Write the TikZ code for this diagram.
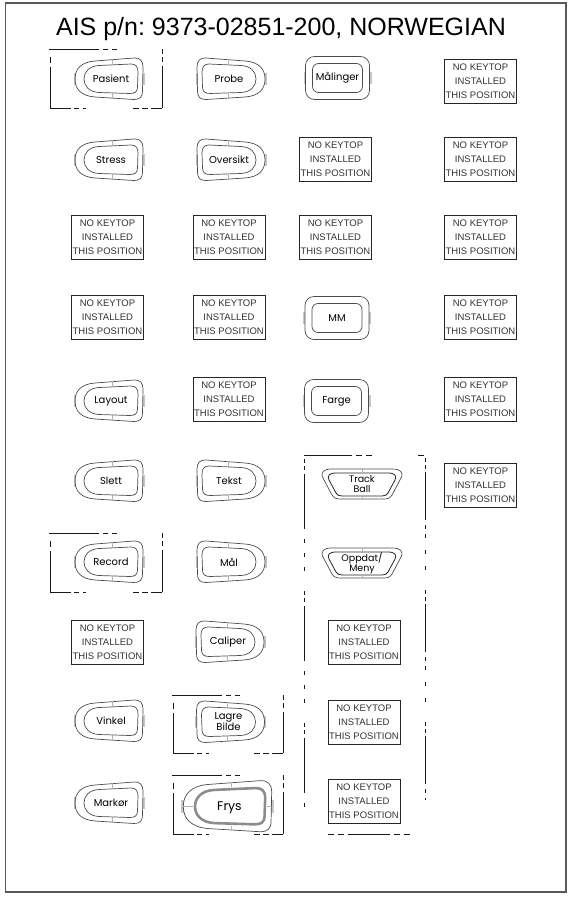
\documentclass[tikz,border=0pt]{standalone}
\usepackage{fontspec}
\setmainfont{Liberation Sans}
\newfontfamily\keyfont{Poppins}
\frenchspacing
\tikzset{
  keyline/.style={line width=0.7pt, black!70},
  tabf/.style={fill=black!22, draw=none},
  splitl/.style={line width=0.4pt, black!30},
  nk/.style={draw=black!85, line width=0.9pt, minimum width=72pt, minimum height=44pt, inner sep=0pt, align=center, font=\fontsize{9.5}{13.8}\selectfont, text=black!80},
  klabel/.style={font=\keyfont\fontsize{10}{11}\selectfont, inner sep=0pt, align=center},
  brk/.style={line width=0.9pt, black!90}
}
% asymmetric keycap: name, x, y, dir, text
\newcommand\keyA[5]{%
\begin{scope}[shift={(#2,#3)}]
 \begin{scope}[xscale=#4]
  \fill[tabf] (-35.5,-6) rectangle (-33.5,6);
  \fill[tabf] (33.5,-6) rectangle (35.5,6);
  \draw[keyline] (-14,-18) -- (25,-21) .. controls (31,-21.5) and (34,-18) .. (34,-12) -- (33.5,12) .. controls (33.5,18) and (31,20.5) .. (25,20.5) -- (-14,18) .. controls (-28,17) and (-34,10) .. (-34,0) .. controls (-34,-10) and (-28,-17) .. (-14,-18) -- cycle;
  \draw[keyline] (-10,-13.5) -- (22,-15) .. controls (27,-15) and (29,-12) .. (29,-7) -- (28.5,8) .. controls (28.5,12.5) and (26,14.5) .. (21,14.5) -- (-10,13.5) .. controls (-20,13) and (-25,7) .. (-25,0) .. controls (-25,-7) and (-20,-13) .. (-10,-13.5) -- cycle;
  \draw[splitl] (3,-20) -- (3,-14.3) (3,14) -- (3,19.5);
 \end{scope}
 \node[klabel] (#1) at ({2*(#4)},0) {#5};
\end{scope}}
% rounded-rectangle key: name, x, y, text
\newcommand\keyB[4]{%
\begin{scope}[shift={(#2,#3)}]
  \fill[tabf] (-34,-6) rectangle (-32,6);
  \fill[tabf] (32,-6) rectangle (34,6);
  \draw[keyline, rounded corners=9pt] (-32,-21.5) rectangle (32,21.5);
  \draw[keyline, rounded corners=6pt] (-25,-14.5) rectangle (25,14.5);
  \node[klabel] (#1) at (0,0) {#4};
\end{scope}}
% trapezoid key: name, x, y, text
\newcommand\keyC[4]{%
\begin{scope}[shift={(#2,#3)}]
  \draw[keyline] (-30,-15) -- (30,-15) .. controls (38,-15) and (42,-12) .. (39,-6) -- (30,11) .. controls (28,14) and (26,15) .. (22,15) -- (-22,15) .. controls (-26,15) and (-28,14) .. (-30,11) -- (-39,-6) .. controls (-42,-12) and (-38,-15) .. (-30,-15) -- cycle;
  \draw[keyline, black!85, line width=0.8pt] (-26,-11) -- (26,-11) .. controls (33,-11) and (35,-8) .. (33,-4) -- (26,9) .. controls (25,11) and (23,12) .. (20,12) -- (-20,12) .. controls (-23,12) and (-25,11) .. (-26,9) -- (-33,-4) .. controls (-35,-8) and (-33,-11) .. (-26,-11) -- cycle;
  \draw[splitl] (0,-15) -- (0,-11) (0,12) -- (0,15);
  \node[klabel, font=\keyfont\fontsize{9.5}{10}\selectfont] (#1) at (0,0.5) {#4};
\end{scope}}
% dashed bracket round a key: x, y, w, h
\newcommand\kbr[4]{%
\begin{scope}[shift={(#1,#2)}]
  \draw[brk, dash pattern=on 50pt off 4pt on 5pt off 4pt on 5pt] (0,0) -- (68,0);
  \draw[brk, dash pattern=on 6pt off 4pt on 100pt] (1,8) -- (1,#4);
  \draw[brk, dash pattern=on 21pt off 3pt on 5pt off 4pt on 4pt] (1,#4) -- (37,#4);
  \draw[brk, dash pattern=on 6pt off 3pt on 6pt off 3pt on 30pt] ({#3-29},#4) -- (#3,#4);
  \draw[brk, dash pattern=on 5pt off 3pt on 5pt off 4pt on 100pt] (#3,0) -- (#3,#4);
\end{scope}}
\begin{document}
\begin{tikzpicture}[x=1pt,y=-1pt]
\useasboundingbox (0,0) rectangle (569,897);
\draw[black!65, line width=1.3pt] (5.5,3) rectangle (566,892);
\node[font=\fontsize{25}{30}\selectfont, anchor=base, inner sep=0pt] (title) at (281,35) {AIS p/n: 9373-02851-200, NORWEGIAN};

% column 1
\keyA{pasient}{109}{79}{1}{Pasient}
\keyA{stress}{109}{160}{1}{Stress}
\node[nk] (nk11) at (107.5,237) {NO KEYTOP\\INSTALLED\\THIS POSITION};
\node[nk] (nk12) at (107.5,317) {NO KEYTOP\\INSTALLED\\THIS POSITION};
\keyA{layout}{109}{401}{1}{Layout}
\keyA{slett}{109}{481}{1}{Slett}
\keyA{record}{109}{562}{1}{Record}
\node[nk] (nk13) at (107.5,642) {NO KEYTOP\\INSTALLED\\THIS POSITION};
\keyA{vinkel}{109}{721}{1}{Vinkel}
\keyA{markor}{109}{803}{1}{Markør}
\kbr{49}{49}{113}{59}
\kbr{49}{533}{113}{59}

% column 2
\keyA{probe}{231}{79}{-1}{Probe}
\keyA{oversikt}{231}{160}{-1}{Oversikt}
\node[nk] (nk21) at (229,237) {NO KEYTOP\\INSTALLED\\THIS POSITION};
\node[nk] (nk22) at (229,317) {NO KEYTOP\\INSTALLED\\THIS POSITION};
\node[nk] (nk23) at (229,399) {NO KEYTOP\\INSTALLED\\THIS POSITION};
\keyA{tekst}{231}{481}{-1}{Tekst}
\keyA{maal}{231}{562}{-1}{Mål}
\keyA{caliper}{230}{642}{-1}{Caliper}
\keyA{lagre}{230.5}{722}{-1}{Lagre\\Bilde}
\kbr{172}{695}{111}{58}
\kbr{172}{775}{111}{59}
% Frys
\begin{scope}[shift={(227.5,806.5)}]
 \begin{scope}[xscale=1.3, yscale=1.23]
  \fill[tabf] (-35.5,-5) rectangle (-33.5,5);
  \fill[tabf] (33.5,-5) rectangle (35.5,5);
  \draw[keyline] (-14,-18) -- (25,-21) .. controls (31,-21.5) and (34,-18) .. (34,-12) -- (33.5,12) .. controls (33.5,18) and (31,20.5) .. (25,20.5) -- (-14,18) .. controls (-28,17) and (-34,10) .. (-34,0) .. controls (-34,-10) and (-28,-17) .. (-14,-18) -- cycle;
  \draw[black!45, line width=2.6pt] (-10,-13.5) -- (22,-15) .. controls (27,-15) and (29,-12) .. (29,-7) -- (28.5,8) .. controls (28.5,12.5) and (26,14.5) .. (21,14.5) -- (-10,13.5) .. controls (-20,13) and (-25,7) .. (-25,0) .. controls (-25,-7) and (-20,-13) .. (-10,-13.5) -- cycle;
  \draw[splitl] (3,-20) -- (3,-15.5) (3,15.5) -- (3,19.5) (-34,0) -- (-26.5,0) (30,0) -- (33.5,0);
 \end{scope}
 \node[klabel, font=\keyfont\fontsize{12.5}{14}\selectfont] (frys) at (2,1) {Frys};
\end{scope}

% column 3
\keyB{malinger}{337.5}{78}{Målinger}
\node[nk] (nk31) at (335.5,159) {NO KEYTOP\\INSTALLED\\THIS POSITION};
\node[nk] (nk32) at (335.5,237) {NO KEYTOP\\INSTALLED\\THIS POSITION};
\keyB{mm}{337}{318}{MM}
\keyB{farge}{336.5}{401}{Farge}
\keyC{track}{362}{484}{Track\\Ball}
\keyC{oppdat}{362}{563}{Oppdat/\\Meny}
\node[nk] (nk33) at (364,642) {NO KEYTOP\\INSTALLED\\THIS POSITION};
\node[nk] (nk34) at (364,722) {NO KEYTOP\\INSTALLED\\THIS POSITION};
\node[nk] (nk35) at (364,801) {NO KEYTOP\\INSTALLED\\THIS POSITION};
% big bracket
\draw[brk, dash pattern=on 48pt off 4pt on 6pt off 4pt on 6pt] (304,455) -- (372,455);
\draw[brk] (418,455) -- (424,455);
\draw[brk, dash pattern=on 4pt off 3pt on 4pt off 4pt on 55pt off 10pt on 4pt off 10pt on 4pt off 10pt on 4pt off 20pt] (304,459) -- (304,812);
\draw[brk, dash pattern=on 4pt off 3pt on 4pt off 3pt on 48pt off 5pt on 4pt off 5pt on 4pt off 12pt on 4pt off 12pt on 4pt off 20pt] (425,458) -- (425,800);
\draw[brk, dash pattern=on 6pt off 4pt on 6pt off 4pt on 42pt off 4pt on 6pt off 4pt on 6pt] (328,834) -- (414,834);

% column 4
\node[nk] (nk41) at (480.5,81) {NO KEYTOP\\INSTALLED\\THIS POSITION};
\node[nk] (nk42) at (480.5,159) {NO KEYTOP\\INSTALLED\\THIS POSITION};
\node[nk] (nk43) at (480.5,237) {NO KEYTOP\\INSTALLED\\THIS POSITION};
\node[nk] (nk44) at (480.5,317) {NO KEYTOP\\INSTALLED\\THIS POSITION};
\node[nk] (nk45) at (480.5,399) {NO KEYTOP\\INSTALLED\\THIS POSITION};
\node[nk] (nk46) at (480.5,485) {NO KEYTOP\\INSTALLED\\THIS POSITION};
\end{tikzpicture}
\end{document}
